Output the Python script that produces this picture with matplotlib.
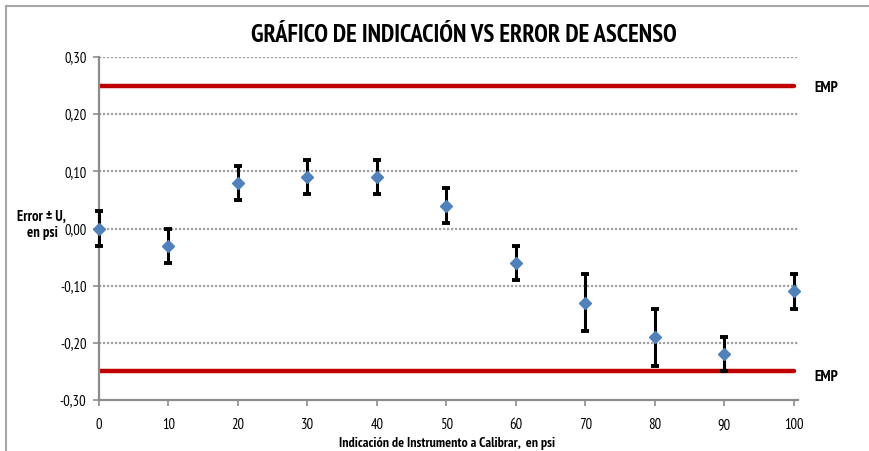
import matplotlib
matplotlib.use("Agg")
import matplotlib.pyplot as plt
from matplotlib.lines import Line2D

# Data
indicacion = [0, 10, 20, 30, 40, 50, 60, 70, 80, 90, 100]
error = [0.00, -0.03, 0.08, 0.09, 0.09, 0.04, -0.06, -0.13, -0.19, -0.22, -0.11]
incert = [0.03, 0.03, 0.03, 0.03, 0.03, 0.03, 0.03, 0.05, 0.05, 0.03, 0.03]
emp_sup = 0.25
emp_inf = -0.25
y_ticks = [-0.30, -0.20, -0.10, 0.00, 0.10, 0.20, 0.30]
x_ticks = [0, 10, 20, 30, 40, 50, 60, 70, 80, 90, 100]

FONT = ["PT Sans Narrow", "DejaVu Sans"]
plt.rcParams['font.family'] = FONT

fig = plt.figure(figsize=(8.69, 4.51), dpi=100)
ax = fig.add_axes([99/869, 51/451, (798-99)/869, (400-57)/451])

# outer frame (top and left border)
fig.add_artist(Line2D([6/869, 1.0], [1-6/451, 1-6/451], color='#A6A6A6', lw=1.5, transform=fig.transFigure))
fig.add_artist(Line2D([6/869, 6/869], [0, 1-6/451], color='#A6A6A6', lw=1.5, transform=fig.transFigure))

ax.set_xlim(0, 100.6)
ax.set_ylim(-0.30, 0.30)

# grid
for yv in y_ticks[1:]:
    ax.axhline(yv, color='#A0A0A0', lw=1.6, ls=(0, (1, 0.8)), zorder=1)

# EMP lines
ax.plot([indicacion[0], indicacion[-1]], [emp_sup, emp_sup], color='#C00000', lw=3.2, solid_capstyle='round', zorder=2)
ax.plot([indicacion[0], indicacion[-1]], [emp_inf, emp_inf], color='#C00000', lw=3.2, solid_capstyle='round', zorder=2)

# error bars
ax.errorbar(indicacion, error, yerr=incert, fmt='D', color='#4F81BD', markersize=6.5,
            ecolor='black', elinewidth=2.2, capsize=3.2, capthick=2.8, zorder=4, clip_on=False)

ax.set_xticks(x_ticks)
ax.set_xticklabels([str(v) for v in x_ticks])
ax.set_yticks(y_ticks)
ax.set_yticklabels([f"{v:.2f}".replace('.', ',') for v in y_ticks])

for s in ['top', 'right']:
    ax.spines[s].set_visible(False)
for s in ['left', 'bottom']:
    ax.spines[s].set_color('#8C8C8C')
    ax.spines[s].set_linewidth(1.6)
ax.tick_params(axis='both', direction='out', length=4, width=1.2, color='#8C8C8C',
               labelsize=10.5, labelcolor='black')
ax.tick_params(axis='x', pad=9)
ax.tick_params(axis='y', pad=5)

fig.text(464/869, 1-35/451, "GRÁFICO DE INDICACIÓN VS ERROR DE ASCENSO", ha='center', va='center',
         fontsize=17.8, fontweight='bold')
fig.text(447/869, 1-443/451, "Indicación de Instrumento a Calibrar,  en psi", ha='center', va='center',
         fontsize=10, fontweight='bold')
fig.text(41/869, 1-225/451, "Error ± U,\n en psi", ha='center', va='center',
         fontsize=10.5, fontweight='bold', linespacing=1.2)
fig.text(826/869, 1-88/451, "EMP", ha='center', va='center', fontsize=11, fontweight='bold')
fig.text(826/869, 1-377/451, "EMP", ha='center', va='center', fontsize=11, fontweight='bold')

fig.savefig("out.png", dpi=100)
